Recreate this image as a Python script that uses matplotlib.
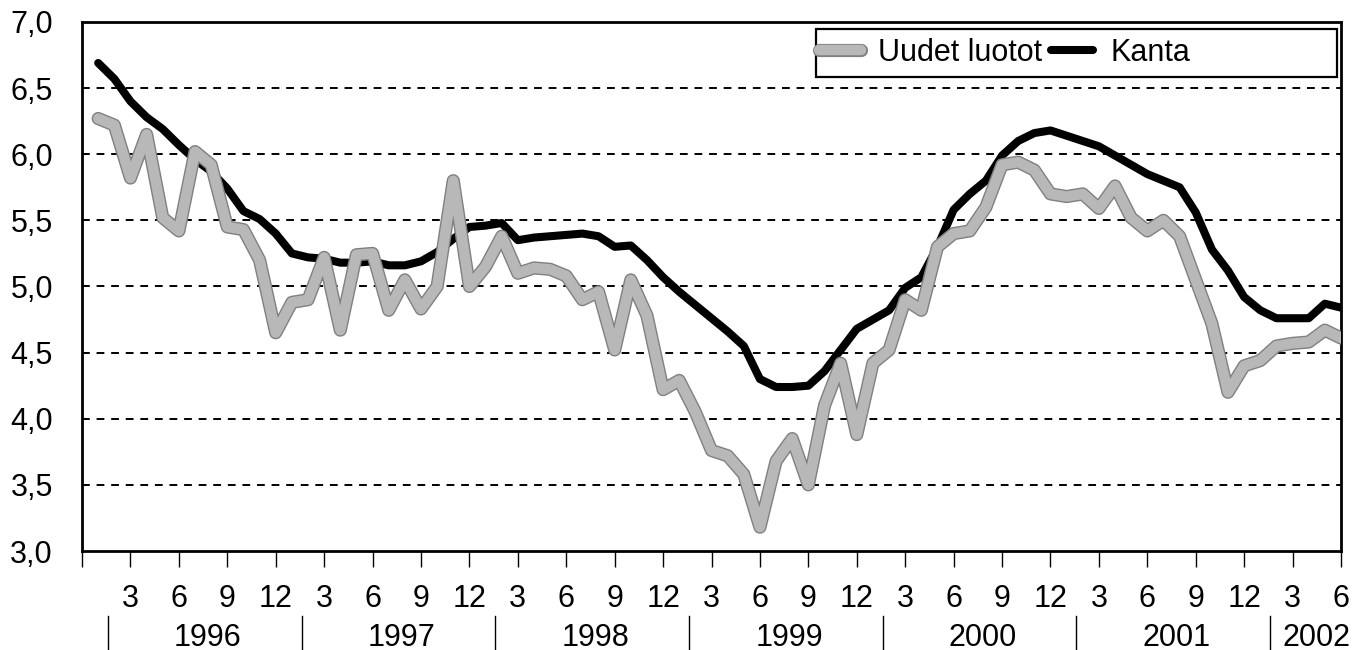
import matplotlib
matplotlib.use("Agg")
import matplotlib.pyplot as plt
import matplotlib.patheffects as pe
from matplotlib.patches import Rectangle
import matplotlib.transforms as mtransforms

plt.rcParams["font.family"] = ["Liberation Sans", "DejaVu Sans"]

# months 1 = Jan 1996 ... 78 = Jun 2002
months = list(range(1, 79))

kanta = [
    6.69, 6.57, 6.40, 6.28, 6.19, 6.07, 5.96, 5.87, 5.74, 5.57, 5.51, 5.40,
    5.25, 5.22, 5.21, 5.18, 5.18, 5.19, 5.16, 5.16, 5.19, 5.26, 5.36, 5.45,
    5.46, 5.48, 5.35, 5.37, 5.38, 5.39, 5.40, 5.38, 5.30, 5.31, 5.20, 5.07,
    4.96, 4.86, 4.76, 4.66, 4.55, 4.30, 4.24, 4.24, 4.25, 4.36, 4.52, 4.68,
    4.75, 4.82, 4.99, 5.07, 5.30, 5.58, 5.70, 5.80, 5.99, 6.10, 6.16, 6.18,
    6.14, 6.10, 6.06, 5.99, 5.92, 5.85, 5.80, 5.75, 5.56, 5.28, 5.12, 4.92,
    4.82, 4.76, 4.76, 4.76, 4.87, 4.84,
]

uudet = [
    6.27, 6.22, 5.82, 6.15, 5.52, 5.42, 6.02, 5.92, 5.45, 5.43, 5.20, 4.65,
    4.88, 4.90, 5.22, 4.67, 5.24, 5.25, 4.82, 5.05, 4.83, 5.00, 5.80, 5.00,
    5.15, 5.38, 5.10, 5.14, 5.13, 5.08, 4.90, 4.96, 4.52, 5.05, 4.78, 4.22,
    4.29, 4.05, 3.76, 3.72, 3.58, 3.18, 3.68, 3.85, 3.50, 4.10, 4.42, 3.88,
    4.42, 4.52, 4.90, 4.82, 5.30, 5.40, 5.42, 5.60, 5.92, 5.94, 5.88, 5.70,
    5.68, 5.70, 5.59, 5.76, 5.52, 5.42, 5.50, 5.38, 5.05, 4.72, 4.20, 4.40,
    4.44, 4.55, 4.57, 4.58, 4.67, 4.61,
]

years = ["1996", "1997", "1998", "1999", "2000", "2001", "2002"]
month_labels = ["3", "6", "9", "12"]
y_ticks = [3.0, 3.5, 4.0, 4.5, 5.0, 5.5, 6.0, 6.5, 7.0]

fig = plt.figure(figsize=(13.72, 6.5), dpi=100)
ax = fig.add_axes([0.0598, 0.1523, 0.9176, 0.8139])

for v in y_ticks[1:-1]:
    ax.axhline(v, color="black", lw=1.4, linestyle=(0, (4, 3.5)), zorder=1)

ax.plot(months, kanta, color="black", lw=5.8, solid_capstyle="round",
        solid_joinstyle="round", zorder=3, label="Kanta")
ax.plot(months, uudet, color="#b8b8b8", lw=7.5, solid_capstyle="round",
        solid_joinstyle="round", zorder=4, label="Uudet luotot",
        path_effects=[pe.Stroke(linewidth=9.5, foreground="#808080"), pe.Normal()])

ax.set_xlim(0, 78)
ax.set_ylim(3.0, 7.0)
ax.set_yticks(y_ticks)
ax.set_yticklabels([f"{v:.1f}".replace(".", ",") for v in y_ticks], fontsize=22)
ax.tick_params(axis="y", length=0, pad=21)

xt = list(range(0, 79, 3))
ax.set_xticks(xt)
ax.set_xticklabels([""] + [month_labels[i % 4] for i in range(len(xt) - 1)], fontsize=22)
ax.tick_params(axis="x", direction="out", length=11.5, width=1, pad=12)

for s in ax.spines.values():
    s.set_linewidth(2)

# year labels and separators below the month labels
trans = mtransforms.blended_transform_factory(ax.transData, fig.transFigure)
for k, yr in enumerate(years):
    sep = 1.6 + 12 * k
    ax.plot([sep, sep], [0.0, 0.052], transform=trans, color="black", lw=1,
            clip_on=False)
    xc = 7.8 + 12 * k if k < len(years) - 1 else 76.5
    ax.text(xc, 0.019, yr, transform=trans, ha="center", va="center",
            fontsize=22)

# legend with a wide box
handles, labels = ax.get_legend_handles_labels()
leg = ax.legend(handles[::-1], labels[::-1], ncol=2, frameon=False,
                loc="center left", bbox_to_anchor=(0.585, 0.941),
                borderaxespad=0, borderpad=0, fontsize=22,
                handlelength=1.38, handletextpad=0.56, columnspacing=0.3)
ax.add_patch(Rectangle((0.583, 0.896), 0.414, 0.091, transform=ax.transAxes,
                       fill=False, edgecolor="black", lw=1.6, zorder=5))

fig.savefig("out.png", dpi=100)
